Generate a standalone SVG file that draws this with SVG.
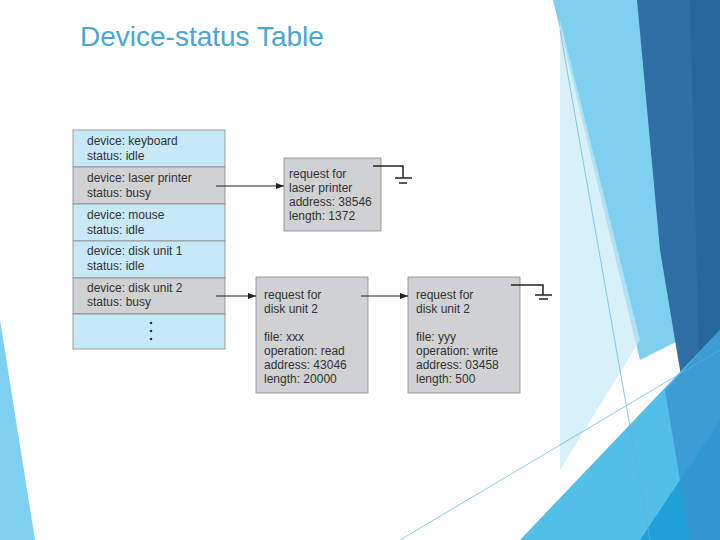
<svg xmlns="http://www.w3.org/2000/svg" width="720" height="540" viewBox="0 0 720 540">
<defs>
<marker id="ah" markerWidth="8" markerHeight="6" refX="8" refY="3" orient="auto" markerUnits="userSpaceOnUse"><path d="M0,0 L8,3 L0,6 Z" fill="#222"/></marker>
<style>
.t{font-family:"Liberation Sans",Arial,sans-serif;font-size:12px;fill:#333}
.row{stroke:#888;stroke-width:0.8}
.b{fill:#d0d1d3;stroke:#888;stroke-width:0.8}
.c{stroke:#222;stroke-width:1.2;fill:none}
.g{stroke:#222;stroke-width:1.5;fill:none}
</style>
</defs>
<rect width="720" height="540" fill="#fff"/>
<g id="background">
<polygon points="553,0 640,0 700,330 640,360" fill="#7dd0ef"/>
<polygon points="637,0 720,0 720,380 690,430 660,250" fill="#2f6fa3"/>
<polygon points="690,0 720,0 720,370 700,400" fill="#27679c"/>
<polygon points="560,20 640,340 560,470" fill="#c8e9f7" opacity="0.7"/>
<polygon points="520,540 720,330 720,540" fill="#52bfe8"/>
<polygon points="640,540 720,420 720,540" fill="#1fa0d8"/>
<polygon points="665,390 720,330 720,540 690,540" fill="#3a93cf" opacity="0.8"/>
<polygon points="0,320 35,540 0,540" fill="#7dd0ef"/>
<line x1="560" y1="30" x2="650" y2="540" stroke="#5ab4dc" stroke-width="0.7"/>
<line x1="400" y1="540" x2="720" y2="350" stroke="#5ab4dc" stroke-width="0.7"/>
</g>
<text x="80" y="46" font-family="'Liberation Sans',Arial,sans-serif" font-size="28" fill="#4ba6d6">Device-status Table</text>
<g id="table">
<rect class="row" x="73" y="130" width="152" height="37" fill="#c6e8f7"/>
<rect class="row" x="73" y="167" width="152" height="37" fill="#d0d1d3"/>
<rect class="row" x="73" y="204" width="152" height="37" fill="#c6e8f7"/>
<rect class="row" x="73" y="241" width="152" height="37" fill="#c6e8f7"/>
<rect class="row" x="73" y="278" width="152" height="36" fill="#d0d1d3"/>
<rect class="row" x="73" y="314" width="152" height="35" fill="#c6e8f7"/>
<text class="t" x="87" y="145">device: keyboard</text><text class="t" x="87" y="160">status: idle</text>
<text class="t" x="87" y="182">device: laser printer</text><text class="t" x="87" y="197">status: busy</text>
<text class="t" x="87" y="219">device: mouse</text><text class="t" x="87" y="234">status: idle</text>
<text class="t" x="87" y="255">device: disk unit 1</text><text class="t" x="87" y="270">status: idle</text>
<text class="t" x="87" y="292">device: disk unit 2</text><text class="t" x="87" y="306">status: busy</text>
<circle cx="151" cy="323" r="1.3" fill="#333"/><circle cx="151" cy="331" r="1.3" fill="#333"/><circle cx="151" cy="339" r="1.3" fill="#333"/>
</g>
<g id="req-laser">
<rect class="b" x="284" y="158" width="97" height="73"/>
<text class="t" x="289" y="178">request for</text><text class="t" x="289" y="192">laser printer</text>
<text class="t" x="289" y="206">address: 38546</text><text class="t" x="289" y="220">length: 1372</text>
<path class="g" d="M373,166 H403 V178 M395,178 H412 M399,183 H407"/>
</g>
<g id="req-disk-1">
<rect class="b" x="256" y="277" width="112" height="116"/>
<text class="t" x="264" y="299">request for</text><text class="t" x="264" y="313">disk unit 2</text>
<text class="t" x="264" y="341">file: xxx</text><text class="t" x="264" y="355">operation: read</text>
<text class="t" x="264" y="369">address: 43046</text><text class="t" x="264" y="383">length: 20000</text>
</g>
<g id="req-disk-2">
<rect class="b" x="408" y="277" width="112" height="116"/>
<text class="t" x="416" y="299">request for</text><text class="t" x="416" y="313">disk unit 2</text>
<text class="t" x="416" y="341">file: yyy</text><text class="t" x="416" y="355">operation: write</text>
<text class="t" x="416" y="369">address: 03458</text><text class="t" x="416" y="383">length: 500</text>
<path class="g" d="M511,285 H543 V295 M535,295 H552 M539,299 H548"/>
</g>
<g id="connectors">
<line class="c" x1="216" y1="186" x2="284" y2="186" marker-end="url(#ah)"/>
<line class="c" x1="216" y1="296" x2="256" y2="296" marker-end="url(#ah)"/>
<line class="c" x1="361" y1="296" x2="408" y2="296" marker-end="url(#ah)"/>
</g>
</svg>
